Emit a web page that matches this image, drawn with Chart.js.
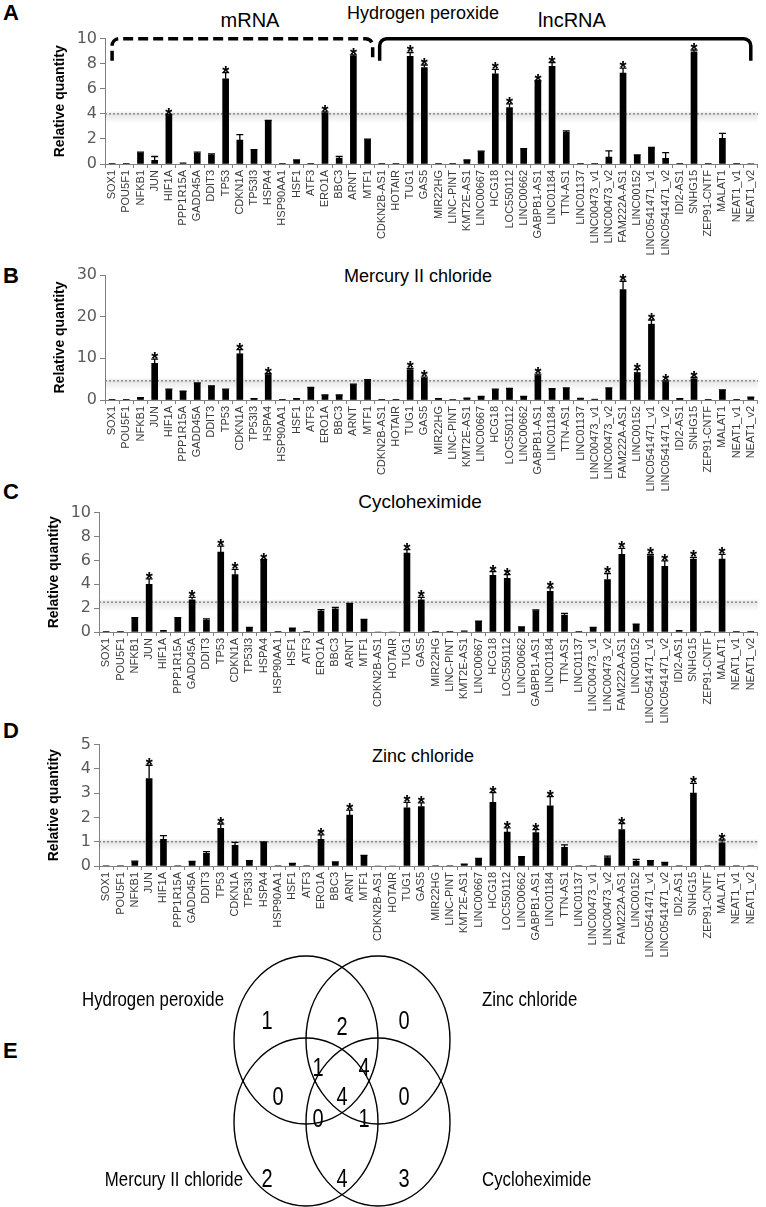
<!DOCTYPE html>
<html>
<head>
<meta charset="utf-8">
<script src="https://cdn.jsdelivr.net/npm/chart.js@4.4.1/dist/chart.umd.min.js"></script>
<style>
  body { margin: 0; background: #fff; width: 766px; height: 1207px; position: relative; overflow: hidden; }
  canvas { position: absolute; left: 0; }
  .letter { position: absolute; left: 3px; font: bold 22px "Liberation Sans", Arial, sans-serif; line-height: 1; }
  .title { position: absolute; transform: translateX(-50%); white-space: nowrap; font: 18px "Liberation Sans", Arial, sans-serif; line-height: 1; color: #000; }
</style>
</head>
<body>
<div class="letter" style="top:2px">A</div>
<div class="letter" style="top:265px">B</div>
<div class="letter" style="top:481px">C</div>
<div class="letter" style="top:720px">D</div>
<div class="letter" style="top:1040px">E</div>

<div class="title" style="left:423px;top:4px">Hydrogen peroxide</div>
<div class="title" style="left:250px;top:10px;font-size:20px">mRNA</div>
<div class="title" style="left:572px;top:10px;font-size:20px">lncRNA</div>
<div class="title" style="left:418px;top:267px">Mercury II chloride</div>
<div class="title" style="left:420px;top:492px;font-size:19px">Cycloheximide</div>
<div class="title" style="left:423px;top:747px">Zinc chloride</div>

<canvas id="chartA" width="766" height="262" style="top:0px"></canvas>
<canvas id="chartB" width="766" height="238" style="top:262px"></canvas>
<canvas id="chartC" width="766" height="232" style="top:500px"></canvas>
<canvas id="chartD" width="766" height="232" style="top:732px"></canvas>
<canvas id="venn" width="766" height="267" style="top:940px"></canvas>

<script>
// genes on the x axis (same order in every panel)
const genes = ['SOX1', 'POU5F1', 'NFKB1', 'JUN', 'HIF1A', 'PPP1R15A', 'GADD45A', 'DDIT3', 'TP53', 'CDKN1A',
  'TP53I3', 'HSPA4', 'HSP90AA1', 'HSF1', 'ATF3', 'ERO1A', 'BBC3', 'ARNT', 'MTF1', 'CDKN2B-AS1',
  'HOTAIR', 'TUG1', 'GAS5', 'MIR22HG', 'LINC-PINT', 'KMT2E-AS1', 'LINC00667', 'HCG18', 'LOC550112', 'LINC00662',
  'GABPB1-AS1', 'LINC01184', 'TTN-AS1', 'LINC01137', 'LINC00473_v1', 'LINC00473_v2', 'FAM222A-AS1', 'LINC00152', 'LINC0541471_v1', 'LINC0541471_v2',
  'IDI2-AS1', 'SNHG15', 'ZEP91-CNTF', 'MALAT1', 'NEAT1_v1', 'NEAT1_v2'];

// brackets above panel A: [label, first gene, last gene]
const geneGroups = [['mRNA', 'SOX1', 'MTF1'], ['lncRNA', 'CDKN2B-AS1', 'NEAT1_v2']];

// A: Hydrogen peroxide
const h2o2Mean = [0.02, 0.02, 0.9, 0.3, 3.9, 0.1, 0.85, 0.7, 6.8, 1.9,
  1.1, 3.45, 0.02, 0.3, 0.02, 4.05, 0.45, 8.6, 1.95, 0.02,
  0.02, 8.6, 7.7, 0.02, 0.02, 0.3, 1.0, 7.2, 4.5, 1.2,
  6.6, 7.8, 2.55, 0.05, 0.05, 0.55, 7.25, 0.7, 1.25, 0.45,
  0.03, 8.95, 0.02, 2.05, 0.02, 0.04];
const h2o2Err = [0, 0, 0.05, 0.3, 0.05, 0, 0.1, 0.1, 0.5, 0.45,
  0.05, 0.03, 0, 0.03, 0, 0.1, 0.15, 0.1, 0.03, 0,
  0, 0.3, 0.2, 0, 0, 0.02, 0.03, 0.35, 0.3, 0.03,
  0.05, 0.3, 0.1, 0, 0, 0.5, 0.4, 0.03, 0.08, 0.45,
  0, 0.15, 0, 0.4, 0, 0];
const h2o2Sig = ['HIF1A', 'TP53', 'ERO1A', 'ARNT', 'TUG1', 'GAS5', 'HCG18', 'LOC550112', 'GABPB1-AS1', 'LINC01184', 'FAM222A-AS1', 'SNHG15'];
const h2o2Cutoff = 4.0;

// B: Mercury II chloride
const hgMean = [0.05, 0.05, 0.5, 8.8, 2.5, 2.0, 4.0, 3.3, 2.5, 11.1,
  0.3, 6.1, 0.05, 0.3, 2.9, 1.1, 1.1, 3.7, 4.7, 0.05,
  0.05, 7.3, 5.2, 0.3, 0.1, 0.4, 0.75, 2.5, 2.7, 0.75,
  5.9, 2.6, 2.8, 0.35, 0.2, 2.8, 26.5, 6.6, 18.2, 4.4,
  0.3, 5.1, 0.05, 2.35, 0.05, 0.6];
const hgErr = [0, 0, 0.05, 1.0, 0.1, 0.1, 0.1, 0.1, 0.1, 1.0,
  0.05, 0.2, 0, 0.05, 0.1, 0.1, 0.1, 0.1, 0.2, 0,
  0, 0.3, 0.3, 0.05, 0, 0.05, 0.1, 0.1, 0.1, 0.1,
  0.3, 0.1, 0.1, 0.05, 0, 0.1, 2.0, 0.7, 1.0, 0.2,
  0.05, 0.3, 0, 0.1, 0, 0.1];
const hgSig = ['JUN', 'CDKN1A', 'HSPA4', 'TUG1', 'GAS5', 'GABPB1-AS1', 'FAM222A-AS1', 'LINC00152', 'LINC0541471_v1', 'LINC0541471_v2', 'SNHG15'];
const hgCutoff = 4.6;

// C: Cycloheximide
const chxMean = [0.02, 0.02, 1.15, 4.0, 0.15, 1.15, 2.7, 1.0, 6.7, 4.8,
  0.35, 6.0, 0.05, 0.3, 0.02, 1.75, 1.95, 2.35, 1.0, 0,
  0, 6.6, 2.7, 0.05, 0.02, 0.1, 0.85, 4.75, 4.5, 0.4,
  1.8, 3.4, 1.4, 0.05, 0.35, 4.4, 6.5, 0.6, 6.4, 5.5,
  0.15, 6.1, 0.02, 6.1, 0.02, 0.05];
const chxErr = [0, 0, 0.05, 0.45, 0, 0.05, 0.2, 0.1, 0.5, 0.45,
  0.03, 0.05, 0, 0.03, 0, 0.12, 0.12, 0.05, 0.05, 0,
  0, 0.3, 0.2, 0, 0, 0, 0.05, 0.3, 0.3, 0.03,
  0.05, 0.3, 0.15, 0, 0.03, 0.5, 0.5, 0.05, 0.1, 0.45,
  0, 0.15, 0, 0.4, 0, 0];
const chxSig = ['JUN', 'GADD45A', 'TP53', 'CDKN1A', 'HSPA4', 'TUG1', 'GAS5', 'HCG18', 'LOC550112', 'LINC01184', 'LINC00473_v2', 'FAM222A-AS1', 'LINC0541471_v1', 'LINC0541471_v2', 'SNHG15', 'MALAT1'];
const chxCutoff = 2.5;

// D: Zinc chloride
const znMean = [0.02, 0.02, 0.18, 3.6, 1.1, 0.02, 0.17, 0.52, 1.55, 0.85,
  0.2, 0.97, 0.02, 0.1, 0.02, 1.1, 0.15, 2.1, 0.42, 0,
  0, 2.4, 2.45, 0.02, 0.02, 0.07, 0.29, 2.62, 1.4, 0.37,
  1.38, 2.48, 0.77, 0.02, 0.02, 0.35, 1.5, 0.2, 0.2, 0.13,
  0.02, 3.0, 0.02, 0.95, 0.02, 0.02];
const znErr = [0, 0, 0.02, 0.55, 0.15, 0, 0.02, 0.07, 0.18, 0.12,
  0.02, 0.02, 0, 0.01, 0, 0.18, 0.02, 0.2, 0.02, 0,
  0, 0.22, 0.15, 0, 0, 0.01, 0.02, 0.4, 0.17, 0.02,
  0.12, 0.38, 0.1, 0, 0, 0.06, 0.25, 0.07, 0.02, 0.02,
  0, 0.4, 0, 0.12, 0, 0];
const znSig = ['JUN', 'TP53', 'ERO1A', 'ARNT', 'TUG1', 'GAS5', 'HCG18', 'LOC550112', 'GABPB1-AS1', 'LINC01184', 'FAM222A-AS1', 'SNHG15', 'MALAT1'];
const znCutoff = 1.0;

// E: Venn diagram
const vennSets = ['Hydrogen peroxide', 'Zinc chloride', 'Mercury II chloride', 'Cycloheximide'];
const vennRegions = ['H', 'HZ', 'Z', 'HZM', 'HZC', 'HM', 'HZMC', 'ZC', 'HMC', 'ZMC', 'M', 'MC', 'C'];
const vennCounts = [1, 2, 0, 1, 4, 0, 4, 0, 0, 1, 2, 4, 3];

// ---------- plugins ----------
const cutoffPlugin = {
  id: 'cutoff',
  beforeDatasetsDraw(chart, args, opts) {
    const { ctx, chartArea: a, scales: { y } } = chart;
    const yy = y.getPixelForValue(opts.value);
    ctx.save();
    const g = ctx.createLinearGradient(0, yy - 3, 0, yy + 9);
    g.addColorStop(0, 'rgba(0,0,0,0)');
    g.addColorStop(0.25, 'rgba(0,0,0,0.10)');
    g.addColorStop(1, 'rgba(0,0,0,0)');
    ctx.fillStyle = g;
    ctx.fillRect(a.left, yy - 3, a.width, 12);
    ctx.setLineDash([2, 2]);
    ctx.strokeStyle = '#8a8a8a';
    ctx.lineWidth = 1.5;
    ctx.beginPath();
    ctx.moveTo(a.left, yy);
    ctx.lineTo(a.right, yy);
    ctx.stroke();
    ctx.restore();
  }
};

const errorBarPlugin = {
  id: 'errorBars',
  afterDatasetsDraw(chart, args, opts) {
    const { ctx, scales: { y } } = chart;
    const meta = chart.getDatasetMeta(0);
    const values = chart.data.datasets[0].data;
    ctx.save();
    ctx.strokeStyle = '#000';
    ctx.fillStyle = '#000';
    ctx.lineWidth = 1.3;
    meta.data.forEach((bar, i) => {
      const err = opts.errors[i];
      const top = y.getPixelForValue(values[i] + err);
      if (err > 0) {
        ctx.beginPath();
        ctx.moveTo(bar.x, bar.y);
        ctx.lineTo(bar.x, top);
        ctx.moveTo(bar.x - 3.5, top);
        ctx.lineTo(bar.x + 3.5, top);
        ctx.stroke();
      }
      if (opts.sig.includes(chart.data.labels[i])) {
        ctx.font = 'bold 18px "Liberation Sans", Arial, sans-serif';
        ctx.textAlign = 'center';
        ctx.fillText('*', bar.x, top + 6);
      }
    });
    ctx.restore();
  }
};

const bracketPlugin = {
  id: 'brackets',
  afterDraw(chart) {
    const { ctx, chartArea: a, scales: { x } } = chart;
    const yt = a.top, yb = a.top + 22, r = 7;
    const step = x.getPixelForValue(1) - x.getPixelForValue(0);
    geneGroups.forEach((grp, k) => {
      let x0 = x.getPixelForValue(genes.indexOf(grp[1]));
      let x1 = x.getPixelForValue(genes.indexOf(grp[2]));
      if (k === 0) x1 += step / 2 - 2; else x0 -= step / 2 - 5;
      ctx.save();
      ctx.strokeStyle = '#000';
      ctx.lineWidth = 3.5;
      if (k === 0) ctx.setLineDash([10, 5]);
      ctx.beginPath();
      ctx.moveTo(x0, yb);
      ctx.lineTo(x0, yt + r);
      ctx.arcTo(x0, yt, x0 + r, yt, r);
      ctx.lineTo(x1 - r, yt);
      ctx.arcTo(x1, yt, x1, yt + r, r);
      ctx.lineTo(x1, yb);
      ctx.stroke();
      ctx.restore();
    });
  }
};

// cfg: canvas-local plot box (top/bottom) and page x (left/right)
function barChart(id, values, errors, sig, cutoff, cfg) {
  const canvas = document.getElementById(id);
  const H = canvas.height;
  return new Chart(canvas, {
    type: 'bar',
    data: {
      labels: genes,
      datasets: [{ data: values, backgroundColor: '#000', barThickness: 6 }]
    },
    options: {
      responsive: false,
      animation: false,
      layout: { padding: { left: cfg.padLeft, right: 766 - cfg.right, top: cfg.top, bottom: 0 } },
      plugins: {
        legend: { display: false },
        tooltip: { enabled: false },
        cutoff: { value: cutoff },
        errorBars: { errors: errors, sig: sig }
      },
      scales: {
        x: {
          grid: { drawOnChartArea: false, tickLength: 4, color: '#808080', offset: true },
          border: { color: '#808080' },
          ticks: {
            autoSkip: false, minRotation: 90, maxRotation: 90, padding: 2,
            color: '#3a3a3a', font: { family: 'Liberation Sans', size: 11 }
          },
          afterFit(s) { s.height = H - cfg.bottom; }
        },
        y: {
          min: 0, max: cfg.max,
          ticks: { stepSize: cfg.step, padding: 3, color: '#5a5a5a', font: { family: 'DejaVu Sans', size: 16 } },
          grid: { drawOnChartArea: false, tickLength: 5, color: '#808080' },
          border: { color: '#808080' },
          title: {
            display: true, text: 'Relative quantity', color: '#000', padding: { top: 3, bottom: 3 },
            font: { family: 'Liberation Sans', size: 14, weight: 'bold' }
          },
          afterFit(s) { s.width = cfg.left - cfg.padLeft; }
        }
      }
    },
    plugins: [cutoffPlugin, errorBarPlugin].concat(cfg.extra || [])
  });
}

barChart('chartA', h2o2Mean, h2o2Err, h2o2Sig, h2o2Cutoff,
  { top: 38.7, bottom: 164, left: 105, right: 765, padLeft: 49, max: 10, step: 2, extra: [bracketPlugin] });
barChart('chartB', hgMean, hgErr, hgSig, hgCutoff,
  { top: 13, bottom: 138, left: 105, right: 765, padLeft: 49, max: 30, step: 5 });
barChart('chartC', chxMean, chxErr, chxSig, chxCutoff,
  { top: 7, bottom: 132, left: 99, right: 759, padLeft: 43, max: 10, step: 2 });
barChart('chartD', znMean, znErr, znSig, znCutoff,
  { top: 9, bottom: 134, left: 99, right: 759, padLeft: 43, max: 5, step: 1 });

// ---------- Venn (E) ----------
const VENN_TOP = 940;
// ellipse centres in page coords, radii
const vennShapes = { H: [306, 1040], Z: [378, 1040], M: [306, 1122], C: [378, 1122], rx: 72, ry: 84 };
// where each region's count sits
const vennSpots = {
  H: [267, 1022], HZ: [342, 1028], Z: [404, 1022], HZM: [318, 1069], HZC: [364, 1069],
  HM: [278, 1098], HZMC: [342, 1098], ZC: [404, 1098], HMC: [318, 1120], ZMC: [364, 1120],
  M: [267, 1180], MC: [342, 1180], C: [404, 1180]
};
const vennLabelSpots = [[224, 1000, 'right'], [482, 1000, 'left'], [243, 1180, 'right'], [482, 1180, 'left']];

// narrow text (condensed look of the original labels)
function narrowText(ctx, text, px, py, align, squeeze) {
  ctx.save();
  ctx.translate(px, py);
  ctx.scale(squeeze, 1);
  ctx.textAlign = align;
  ctx.fillText(text, 0, 0);
  ctx.restore();
}

const vennPlugin = {
  id: 'venn',
  afterDatasetsDraw(chart) {
    const { ctx, scales: { x, y } } = chart;
    ctx.save();
    ctx.strokeStyle = '#000';
    ctx.lineWidth = 1.4;
    ['H', 'Z', 'M', 'C'].forEach(k => {
      const [cx, cy] = vennShapes[k];
      const px = x.getPixelForValue(cx), py = y.getPixelForValue(cy - VENN_TOP);
      const rx = x.getPixelForValue(cx + vennShapes.rx) - px;
      const ry = y.getPixelForValue(cy - VENN_TOP + vennShapes.ry) - py;
      ctx.beginPath();
      ctx.ellipse(px, py, Math.abs(rx), Math.abs(ry), 0, 0, Math.PI * 2);
      ctx.stroke();
    });
    ctx.fillStyle = '#000';
    ctx.textBaseline = 'middle';
    ctx.font = '25px "Liberation Sans", Arial, sans-serif';
    chart.getDatasetMeta(0).data.forEach((pt, i) => {
      narrowText(ctx, String(vennCounts[i]), pt.x, pt.y, 'center', 0.8);
    });
    ctx.font = '21px "Liberation Sans", Arial, sans-serif';
    vennSets.forEach((name, i) => {
      const [lx, ly, al] = vennLabelSpots[i];
      narrowText(ctx, name, x.getPixelForValue(lx), y.getPixelForValue(ly - VENN_TOP), al, 0.8);
    });
    ctx.restore();
  }
};

new Chart(document.getElementById('venn'), {
  type: 'scatter',
  data: {
    datasets: [{
      data: vennRegions.map(r => ({ x: vennSpots[r][0], y: vennSpots[r][1] - VENN_TOP })),
      pointRadius: 0
    }]
  },
  options: {
    responsive: false,
    animation: false,
    layout: { padding: 0 },
    scales: {
      x: { display: false, min: 0, max: 766 },
      y: { display: false, min: 0, max: 267, reverse: true }
    },
    plugins: { legend: { display: false }, tooltip: { enabled: false } }
  },
  plugins: [vennPlugin]
});
</script>
</body>
</html>
